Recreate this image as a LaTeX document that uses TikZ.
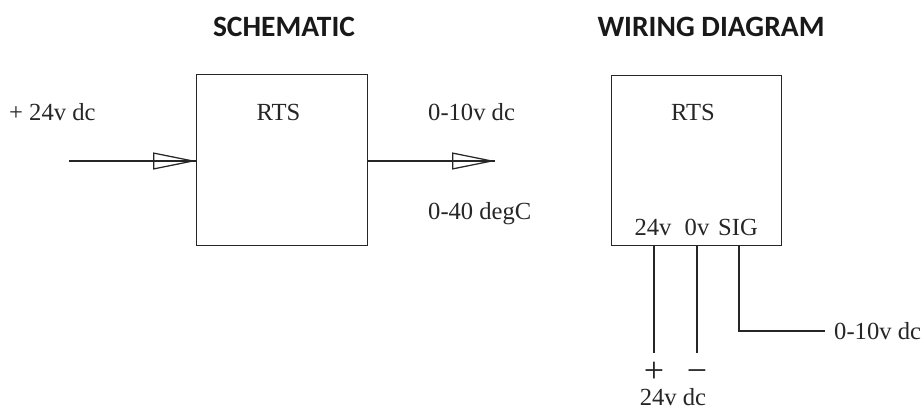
\documentclass[tikz,border=0pt]{standalone}
\usepackage{fontspec}
\setmainfont{Liberation Serif}
\newfontfamily\titlefont{Carlito}
\usetikzlibrary{arrows.meta}
\tikzset{
  x=1pt,y=-1pt,
  wire/.style={line width=1.25pt,draw=black!85},
  block/.style={wire,draw,minimum width=170.5pt,minimum height=170.5pt,inner sep=0pt},
  heading/.style={font=\titlefont\bfseries\fontsize{29.5}{32}\selectfont,text=black!90,inner sep=0pt},
  lbl/.style={font=\fontsize{24.6}{28}\selectfont,text=black!85,inner sep=0pt},
  sign/.style={font=\fontsize{36}{38}\selectfont,text=black!85,inner sep=0pt,anchor=base},
  hollow/.style={wire,-{Triangle[open,length=43pt,width=17pt,line width=1.25pt,sharp]}},
}
\begin{document}
\begin{tikzpicture}
\useasboundingbox (0,0) rectangle (921,408);
\node[heading] (t1) at (284,27) {SCHEMATIC};
\node[heading] (t2) at (711,27) {WIRING DIAGRAM};
% schematic
\node[block] (a) at (282,160) {};
\node[lbl] (artsa) at (278.5,112) {RTS};
\node[lbl,anchor=west] (inl) at (9,112) {+ 24v dc};
\node[lbl,anchor=west] (outl) at (428,112) {0-10v dc};
\node[lbl,anchor=west] (rng) at (428,214) {0-40 degC};
\coordinate (in) at (69,161);
\coordinate (tipa) at (a.west |- in);
\coordinate (outa) at (a.east |- in);
\coordinate (tipb) at (495,161);
\draw[wire] (in) -- (tipa);
\draw[hollow] (in) -- (tipa);
\draw[wire] (outa) -- (tipb);
\draw[hollow] (outa) -- (tipb);
% wiring
\node[block] (b) at (696.5,160.5) {};
\node[lbl] (rtsb) at (693,112) {RTS};
\node[lbl] (p24) at (653,227) {24v};
\node[lbl] (p0) at (697,227) {0v};
\node[lbl] (psig) at (738,227) {SIG};
\coordinate (e1) at (654,353);
\coordinate (e2) at (697,353);
\coordinate (e3) at (739,331);
\node[lbl,anchor=west] (sigl) at (834,331) {0-10v dc};
\node[sign] (plus) at (654,382) {+};
\node[sign] (minus) at (697,382) {−};
\node[lbl] (dc) at (673,397) {24v dc};
\draw[wire] (e1 |- b.south) -- (e1);
\draw[wire] (e2 |- b.south) -- (e2);
\draw[wire] (e3 |- b.south) -- (e3) -- (825,331);
\end{tikzpicture}
\end{document}
